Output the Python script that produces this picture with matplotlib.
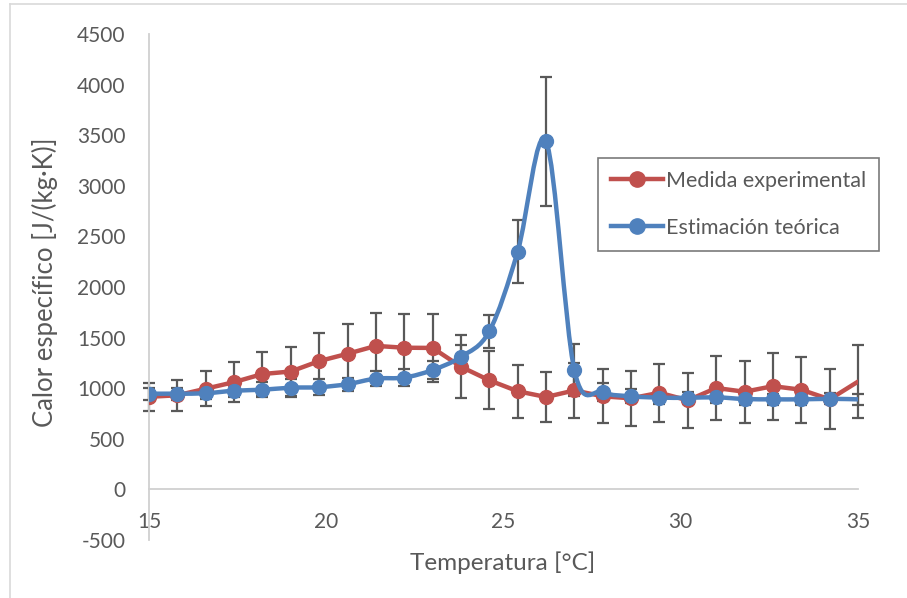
import matplotlib.pyplot as plt
import numpy as np
from matplotlib.path import Path
from matplotlib.patches import PathPatch
from matplotlib.lines import Line2D

plt.rcParams['font.family'] = ['Lato', 'DejaVu Sans']
plt.rcParams['axes.unicode_minus'] = False

temperatura = [15.0, 15.8, 16.6, 17.4, 18.2, 19.0, 19.8, 20.6, 21.4, 22.2, 23.0, 23.8, 24.6,
               25.4, 26.2, 27.0, 27.8, 28.6, 29.4, 30.2, 31.0, 31.8, 32.6, 33.4, 34.2, 35.0]
medida = [915, 930, 995, 1060, 1140, 1165, 1268, 1340, 1418, 1400, 1398, 1212, 1078,
          970, 913, 978, 920, 900, 955, 880, 1002, 965, 1020, 985, 890, 1065]
medida_err = [140, 155, 175, 200, 215, 240, 275, 290, 330, 335, 336, 310, 285,
              262, 247, 268, 265, 270, 287, 272, 312, 307, 330, 325, 297, 362]
estimacion = [946, 946, 950, 975, 985, 1005, 1010, 1040, 1095, 1105, 1180, 1310, 1563,
              2350, 3440, 1177, 963, 920, 907, 905, 910, 893, 890, 890, 895, 890]
estimacion_err = [60, 60, 60, 65, 75, 90, 80, 65, 75, 85, 85, 120, 165,
                  315, 635, 255, 90, 70, 60, 60, 60, 55, 55, 55, 55, 55]

rojo = '#C0504D'
azul = '#4F81BD'
gris = '#595959'


def curva_suave(x, y):
    # excel-style smoothed line: cubic bezier segments (catmull-rom control points)
    p = np.column_stack([x, y]).astype(float)
    verts = [p[0]]
    codes = [Path.MOVETO]
    n = len(p)
    for i in range(n - 1):
        p0 = p[i - 1] if i > 0 else p[i]
        p3 = p[i + 2] if i + 2 < n else p[i + 1]
        c1 = p[i] + (p[i + 1] - p0) / 6
        c2 = p[i + 1] - (p3 - p[i]) / 6
        verts += [c1, c2, p[i + 1]]
        codes += [Path.CURVE4] * 3
    return Path(verts, codes)


fig = plt.figure(figsize=(9.07, 5.98), dpi=100)
ax = fig.add_axes([149 / 907, 1 - 540 / 598, (858 - 149) / 907, (540 - 34) / 598])

ax.errorbar(temperatura, medida, yerr=medida_err, fmt='none', ecolor=gris,
            elinewidth=1.6, capsize=4.5, capthick=1.6, zorder=2, clip_on=False)
ax.errorbar(temperatura, estimacion, yerr=estimacion_err, fmt='none', ecolor=gris,
            elinewidth=1.6, capsize=4.5, capthick=1.6, zorder=2, clip_on=False)

ax.plot(temperatura, medida, color=rojo, lw=3.2, zorder=3, solid_capstyle='round')
ax.plot(temperatura[:-1], medida[:-1], 'o', color=rojo, ms=10, zorder=4)

ax.add_patch(PathPatch(curva_suave(temperatura, estimacion), fill=False,
                       edgecolor=azul, lw=3.2, zorder=5, capstyle='round'))
ax.plot(temperatura[:-1], estimacion[:-1], 'o', color=azul, ms=10, zorder=6)

ax.set_xlim(15, 35)
ax.set_ylim(-500, 4500)
ax.set_xticks([15, 20, 25, 30, 35])
ax.set_yticks(np.arange(-500, 4501, 500))

for s in ['top', 'right']:
    ax.spines[s].set_visible(False)
ax.spines['bottom'].set_position(('data', 0))
ax.spines['bottom'].set_color('#D0D0D0')
ax.spines['left'].set_color('#D0D0D0')
ax.spines['bottom'].set_linewidth(1.3)
ax.spines['left'].set_linewidth(1.3)
ax.tick_params(axis='both', length=0, labelsize=15, labelcolor=gris)
ax.tick_params(axis='x', pad=16)
ax.tick_params(axis='y', pad=17)

fig.text(503 / 907, 1 - 563 / 598, 'Temperatura [°C]', ha='center', va='center',
         fontsize=17.5, color=gris)
fig.text(45 / 907, 1 - 282 / 598, 'Calor específico [J/(kg·K)]', ha='center', va='center',
         rotation=90, fontsize=18.5, color=gris)

handles = [Line2D([], [], color=rojo, lw=3.2, marker='o', ms=11),
           Line2D([], [], color=azul, lw=3.2, marker='o', ms=11)]
leg = ax.legend(handles, ['Medida experimental', 'Estimación teórica'],
                loc='upper left', bbox_to_anchor=((598 - 149) / 709, (540 - 158) / 506),
                fontsize=15.5, frameon=True, fancybox=False, borderpad=0.6,
                labelspacing=1.25, handlelength=2.4, handletextpad=0.15, borderaxespad=0)
leg.get_frame().set_edgecolor(gris)
leg.get_frame().set_linewidth(1.2)
for t in leg.get_texts():
    t.set_color(gris)

fig.add_artist(Line2D([10 / 907, 10 / 907], [0, 1 - 4 / 598], color='#D9D9D9', lw=1.2))
fig.add_artist(Line2D([10 / 907, 1], [1 - 4 / 598, 1 - 4 / 598], color='#D9D9D9', lw=1.2))

fig.savefig('out.png', dpi=100)
